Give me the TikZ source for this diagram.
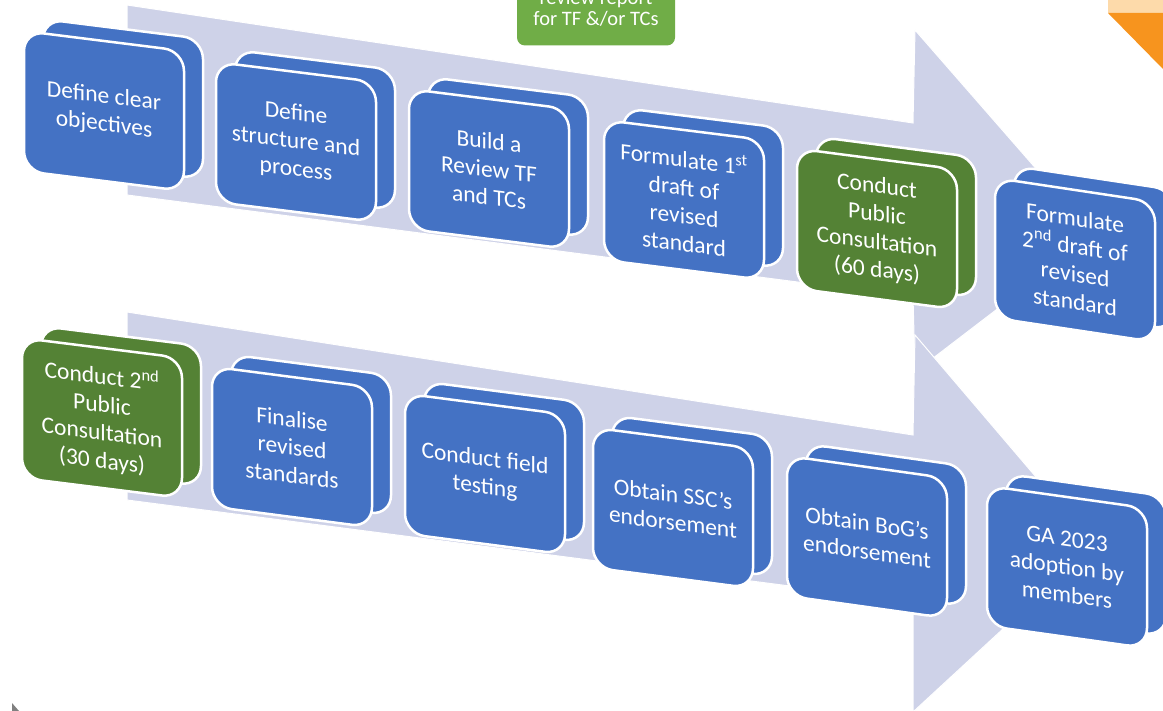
\documentclass[tikz,border=0pt]{standalone}
\usepackage{fontspec}
\setmainfont{Carlito}

\definecolor{stepblue}{RGB}{68,114,196}
\definecolor{stepgreen}{RGB}{84,130,53}
\definecolor{arrowgrey}{RGB}{206,210,232}
\definecolor{reviewgreen}{RGB}{112,173,71}
\definecolor{cornerorange}{RGB}{247,148,30}
\definecolor{cornerpeach}{RGB}{253,218,170}

\tikzset{
  stepcard/.style={draw=white, line width=2.5pt, rounded corners=20pt,
    minimum width=160pt, minimum height=140pt, text=white, align=center,
    inner sep=2pt, font=\fontsize{23.5}{28}\selectfont},
  reviewbox/.style={fill=reviewgreen, rounded corners=8pt, minimum width=158pt,
    minimum height=75pt, text=white, align=center,
    font=\fontsize{20.5}{21}\selectfont},
  bigarrow/.style={fill=arrowgrey, draw=white, line width=1pt, line join=miter},
}

\begin{document}
\begin{tikzpicture}[x=1pt,y=-1pt]
  \useasboundingbox (0,0) rectangle (1163,711);
  \clip (0,0) rectangle (1163,711);
  \fill[white] (0,0) rectangle (1163,711);

  % Two big arrows behind the steps
  \draw[bigarrow] (127,5) -- (913,123) -- (915,30) -- (1094,235) -- (915,372)
    -- (913,297) -- (127,195) -- cycle;
  \draw[bigarrow] (127,312) -- (913,435) -- (915,335) -- (1094,545) -- (913,712)
    -- (913,602) -- (127,500) -- cycle;

  % Steps, back layer first, then the front face
  \foreach \n/\x/\y/\col/\s/\txt in {
      1/104/111/stepblue/0.125/{Define clear\\objectives},
      2/296/142/stepblue/0.125/{Define\\structure and\\process},
      3/489/169/stepblue/0.125/{Build a\\Review TF\\and TCs},
      4/684/200/stepblue/0.125/{Formulate 1\textsuperscript{st}\\draft of\\revised\\standard},
      5/877/229/stepgreen/0.13/{Conduct\\Public\\Consultation\\(60 days)},
      6/1075/260/stepblue/0.15/{Formulate\\2\textsuperscript{nd} draft of\\revised\\standard},
      7/102/418/stepgreen/0.125/{Conduct 2\textsuperscript{nd}\\Public\\Consultation\\(30 days)},
      8/292/447/stepblue/0.13/{Finalise\\revised\\standards},
      9/485/474/stepblue/0.13/{Conduct field\\testing},
      10/673/508/stepblue/0.13/{Obtain SSC’s\\endorsement},
      11/867/537/stepblue/0.14/{Obtain BoG’s\\endorsement},
      12/1067/567/stepblue/0.14/{GA 2023\\adoption by\\members}} {
    \node[stepcard, fill=\col, yslant=-\s] (back\n) at (\x+19,\y-12) {};
    \node[stepcard, fill=\col, yslant=-\s] (step\n) at (\x,\y) {\txt};
  }

  % Review report box, cut at the top
  \node[reviewbox] (review) at (596,8) {review report\\for TF \&/or TCs};

  % Corner mark
  \fill[cornerpeach] (1108,0) rectangle (1163,13);
  \fill[cornerorange] (1108,13) -- (1163,13) -- (1163,69) -- cycle;

  % Pointer
  \fill[gray] (12,703) -- (12,711) -- (19,711) -- cycle;
\end{tikzpicture}
\end{document}
